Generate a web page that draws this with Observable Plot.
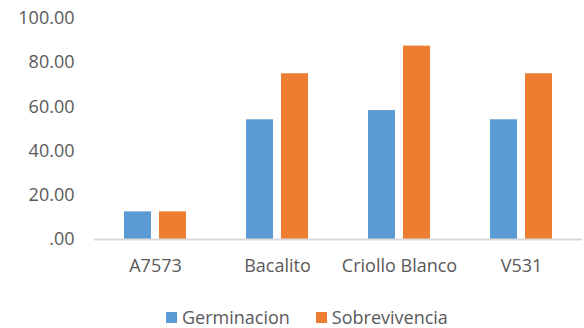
<!DOCTYPE html>
<html>
<head>
<meta charset="utf-8">
<script src="https://cdn.jsdelivr.net/npm/d3@7"></script>
<script src="https://cdn.jsdelivr.net/npm/@observablehq/plot@0.6"></script>
<style>
  body { margin: 0; background: #fff; }
  #chart { position: relative; width: 584px; height: 328px; background: #fff; font-family: "Open Sans", Lato, sans-serif; color: #595959; }
  #chart svg { position: absolute; left: 0; top: 0; }
  .legend { position: absolute; left: 166px; top: 306px; display: flex; align-items: center; font-size: 18px; line-height: 22px; }
  .legend .item { display: flex; align-items: center; margin-right: 26px; }
  .legend .swatch { width: 11px; height: 11px; margin-right: 5px; }
</style>
</head>
<body>
<div id="chart"></div>
<script>
// Varieties and their two measured percentages
const categories = ["A7573", "Bacalito", "Criollo Blanco", "V531"];
const series = ["Germinacion", "Sobrevivencia"];
const germinacion = [12.5, 54.17, 58.33, 54.17];
const sobrevivencia = [12.5, 75, 87.5, 75];
const yTicks = [0, 20, 40, 60, 80, 100];
const colors = ["#5B9BD5", "#ED7D31"];

const rows = categories.flatMap((cat, i) => [
  { cat, serie: series[0], value: germinacion[i] },
  { cat, serie: series[1], value: sobrevivencia[i] }
]);

const fmt = d => d === 0 ? ".00" : d.toFixed(2);

const plot = Plot.plot({
  width: 584,
  height: 296,
  marginLeft: 93,
  marginRight: 1,
  marginTop: 18,
  marginBottom: 57,
  style: { fontFamily: "'Open Sans', Lato, sans-serif", fontSize: "18px", color: "#595959", background: "#fff", overflow: "visible" },
  fx: { domain: categories, padding: 0 },
  x: { domain: series, paddingInner: 0.227, paddingOuter: 0.849, axis: null },
  y: { domain: [0, 100] },
  color: { domain: series, range: colors },
  marks: [
    Plot.axisY(yTicks, { tickFormat: fmt, tickSize: 0, tickPadding: 20, label: null, fontSize: 18 }),
    Plot.axisFx({ anchor: "bottom", tickSize: 0, tickPadding: 20, label: null, fontSize: 18 }),
    Plot.barY(rows, { fx: "cat", x: "serie", y: "value", fill: "serie" }),
    Plot.ruleY([0], { stroke: "#d9d9d9", strokeWidth: 2 })
  ]
});

const chart = document.getElementById("chart");
chart.appendChild(plot);

// Legend below the plot
const legend = document.createElement("div");
legend.className = "legend";
series.forEach((s, i) => {
  const item = document.createElement("div");
  item.className = "item";
  const sw = document.createElement("span");
  sw.className = "swatch";
  sw.style.background = colors[i];
  const label = document.createElement("span");
  label.textContent = s;
  item.appendChild(sw);
  item.appendChild(label);
  legend.appendChild(item);
});
chart.appendChild(legend);
</script>
</body>
</html>
